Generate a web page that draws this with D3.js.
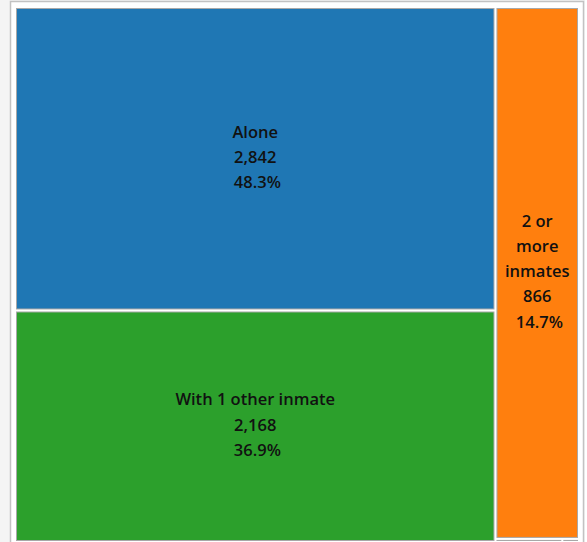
<!DOCTYPE html>
<html>
<head>
<meta charset="utf-8">
<script src="https://cdn.jsdelivr.net/npm/d3@7"></script>
<style>
  html, body { margin: 0; padding: 0; background: #f4f4f4; overflow: hidden; }
  svg { display: block; }
</style>
</head>
<body>
<svg id="chart" width="587" height="542"></svg>
<script>
// Data
const groups = ["Shared cell", "Larger cell"];
const categories = ["Alone", "With 1 other inmate", "2 or more inmates", "Other A", "Other B"];
const values = [2842, 2168, 866, 4, 1];
const colors = ["#1f77b4", "#2ca02c", "#ff7f0e", "#8c564b", "#c7c7c7"];
const labelLines = [["Alone"], ["With 1 other inmate"], ["2 or", "more", "inmates"], [], []];

const total = d3.sum(values);
const fmt = d3.format(",");
const pct = d3.format(".1%");

// Build hierarchy: left column (Alone, With 1), right column (2+ , tiny row)
const tree = {
  name: "root",
  children: [
    { name: groups[0], children: [0, 1].map(i => ({ idx: i, value: values[i] })) },
    { name: groups[1], children: [
        { idx: 2, value: values[2] },
        { name: "tiny", children: [3, 4].map(i => ({ idx: i, value: values[i] })) }
    ] }
  ]
};

const svg = d3.select("#chart");

// panel
svg.append("rect")
  .attr("x", 10.5).attr("y", 1.5)
  .attr("width", 573).attr("height", 560)
  .attr("fill", "#ffffff")
  .attr("stroke", "#c2c2c2")
  .attr("stroke-width", 1.5);
svg.append("rect")
  .attr("x", 585).attr("y", 0).attr("width", 2).attr("height", 542)
  .attr("fill", "#ffffff");

const x0 = 16, y0 = 8, W = 562, H = 533;

const root = d3.hierarchy(tree).sum(d => d.value || 0);
d3.treemap()
  .tile(d3.treemapSliceDice)
  .size([W, H])
  .paddingInner(2)
  .round(false)(root);

const leaves = root.leaves();

const g = svg.append("g").attr("transform", `translate(${x0},${y0})`);

const cell = g.selectAll("g.cell").data(leaves).join("g")
  .attr("class", "cell")
  .attr("transform", d => `translate(${d.x0},${d.y0})`);

cell.append("rect")
  .attr("x", 0.5).attr("y", 0.5)
  .attr("width", d => Math.max(0, d.x1 - d.x0 - 1))
  .attr("height", d => Math.max(0, d.y1 - d.y0 - 1))
  .attr("fill", d => colors[d.data.idx])
  .attr("stroke", "#a8a8a8")
  .attr("stroke-width", 1);

const lineH = 25.2;
cell.each(function(d) {
  const i = d.data.idx;
  if (labelLines[i].length === 0) return;
  const lines = labelLines[i].concat([fmt(values[i]), "\u00a0" + pct(values[i] / total)]);
  const cx = (d.x1 - d.x0) / 2;
  const cy = (d.y1 - d.y0) / 2;
  const startY = cy - (lines.length - 1) * lineH / 2 - 1.5;
  const t = d3.select(this).append("text")
    .attr("text-anchor", "middle")
    .attr("font-family", "'Open Sans', sans-serif")
    .attr("font-size", 16.5)
    .attr("font-weight", 600)
    .attr("fill", "#111111");
  lines.forEach((ln, k) => {
    t.append("tspan")
      .attr("x", cx)
      .attr("y", startY + k * lineH)
      .attr("dy", "0.35em")
      .text(ln);
  });
});
</script>
</body>
</html>
